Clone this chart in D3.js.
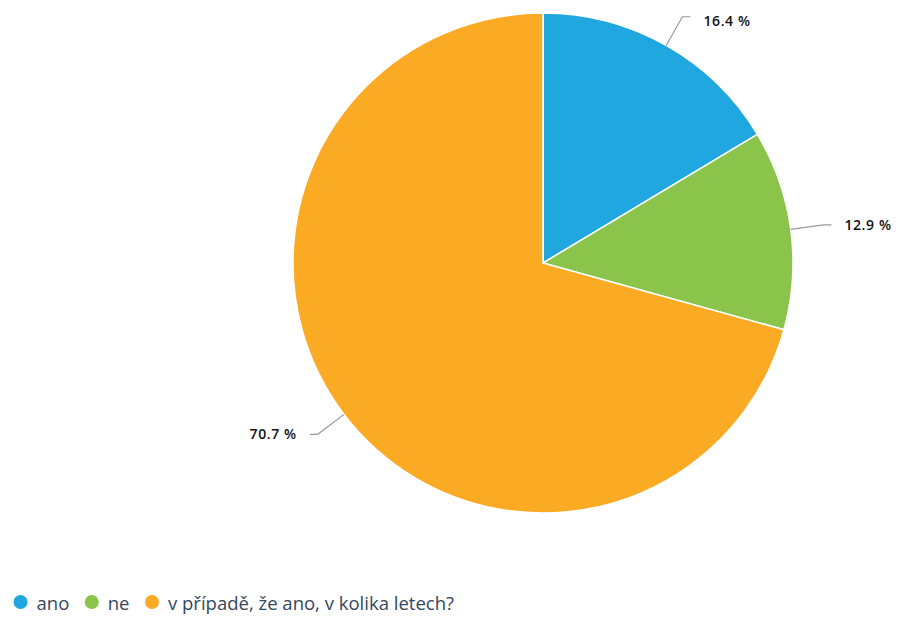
<!DOCTYPE html>
<html>
<head>
<meta charset="utf-8">
<script src="https://cdn.jsdelivr.net/npm/d3@7"></script>
<style>
  body { margin: 0; background: #fff; }
  svg { display: block; font-family: "Open Sans", "DejaVu Sans", sans-serif; }
</style>
</head>
<body>
<svg id="chart" width="901" height="617"></svg>
<script>
// data
var categories = ["ano", "ne", "v případě, že ano, v kolika letech?"];
var values = [16.4, 12.9, 70.7];
var colors = ["#21a7df", "#8bc44a", "#fbaa24"];

var svg = d3.select("#chart");
var cx = 543, cy = 263, r = 250;
var elbowR = r + 33, tail = 8, gap = 13;
var labelTop = 21; // labels kept inside the top edge

var pie = d3.pie().sort(null).value(function (d) { return d; });
var arc = d3.arc().innerRadius(0).outerRadius(r);
var arcs = pie(values);

var g = svg.append("g").attr("transform", "translate(" + cx + "," + cy + ")");

// slices
g.selectAll("path.slice")
  .data(arcs)
  .enter().append("path")
  .attr("class", "slice")
  .attr("d", arc)
  .attr("fill", function (d, i) { return colors[i]; })
  .attr("stroke", "#fff")
  .attr("stroke-width", 1.5)
  .attr("stroke-linejoin", "round");

// connectors + labels
function pt(a, rad) { return [Math.sin(a) * rad, -Math.cos(a) * rad]; }

arcs.forEach(function (d, i) {
  var mid = (d.startAngle + d.endAngle) / 2;
  var p0 = pt(mid, r), p1 = pt(mid, elbowR);
  var side = p1[0] >= 0 ? 1 : -1;
  var p2 = [p1[0] + side * tail, p1[1]];
  g.append("path")
    .attr("d", d3.line()([p0, p1, p2]))
    .attr("fill", "none")
    .attr("stroke", "#999")
    .attr("stroke-width", 1.2);
  g.append("text")
    .attr("x", p2[0] + side * gap)
    .attr("y", Math.max(p2[1], labelTop - cy))
    .attr("dy", "0.35em")
    .attr("text-anchor", side > 0 ? "start" : "end")
    .attr("font-size", 14)
    .attr("font-weight", 600)
    .attr("letter-spacing", 0.6)
    .attr("fill", "#111")
    .text(d3.format(".1f")(values[i]) + " %");
});

// legend
var legend = svg.append("g").attr("transform", "translate(0,602)");
var lx = 20.5;
categories.forEach(function (c, i) {
  legend.append("circle")
    .attr("cx", lx)
    .attr("cy", 0)
    .attr("r", 7)
    .attr("fill", colors[i]);
  var t = legend.append("text")
    .attr("x", lx + 16)
    .attr("y", 2)
    .attr("dy", "0.35em")
    .attr("font-size", 18.5)
    .attr("fill", "#34475e")
    .text(c);
  lx += 16 + t.node().getComputedTextLength() + 22.5;
});
</script>
</body>
</html>
